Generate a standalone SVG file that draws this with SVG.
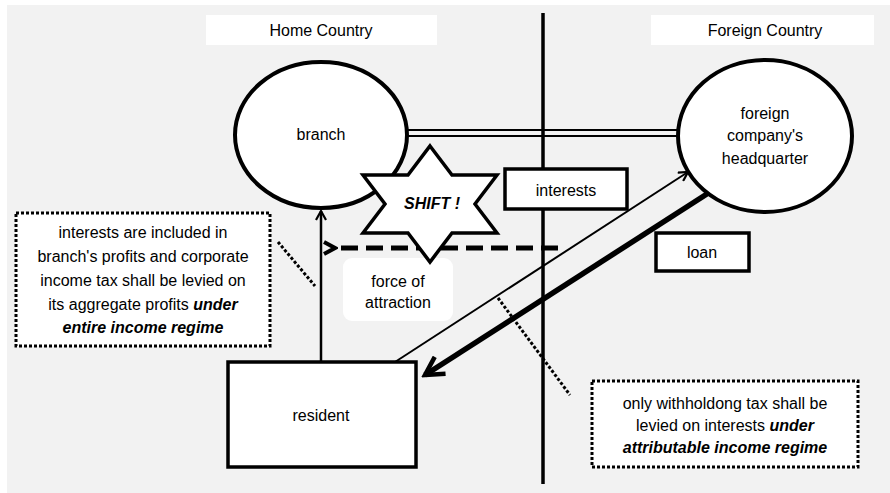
<svg xmlns="http://www.w3.org/2000/svg" width="890" height="493" viewBox="0 0 890 493">
  <defs>
    <style>
      text { font-family: "Liberation Sans", Arial, sans-serif; font-size: 16px; fill: #000; text-anchor: middle; }
      .bi { font-weight: bold; font-style: italic; }
      .node { fill: #fff; stroke: #000; stroke-width: 3.5; }
      .oval { fill: #fff; stroke: #000; stroke-width: 4; }
      .note { fill: #fff; stroke: #000; stroke-width: 3; stroke-dasharray: 3 2; }
      .leader { fill: none; stroke: #000; stroke-width: 3; stroke-dasharray: 3 2; }
      .label { fill: #fff; stroke: none; }
    </style>
    <marker id="arrowOpen" viewBox="0 0 12 12" refX="10" refY="6" markerWidth="12" markerHeight="12" markerUnits="userSpaceOnUse" orient="auto">
      <path d="M1,1 L10,6 L1,11" fill="none" stroke="#000" stroke-width="2.2" stroke-linejoin="miter"/>
    </marker>
    <marker id="arrowThick" viewBox="0 0 24 24" refX="20" refY="12" markerWidth="24" markerHeight="24" markerUnits="userSpaceOnUse" orient="auto">
      <path d="M2,2 L20,12 L2,22" fill="none" stroke="#000" stroke-width="4.5" stroke-linejoin="miter"/>
    </marker>
    <marker id="arrowDash" viewBox="0 0 16 16" refX="2" refY="8" markerWidth="16" markerHeight="16" markerUnits="userSpaceOnUse" orient="auto">
      <path d="M14,2 L3,8 L14,14" fill="none" stroke="#000" stroke-width="4" stroke-linejoin="miter"/>
    </marker>
  </defs>

  <!-- canvas -->
  <rect x="7" y="5" width="883" height="488" fill="#f2f2f2"/>

  <!-- country headers -->
  <g id="home-country">
    <rect class="label" x="206" y="15" width="231" height="30"/>
    <text x="321" y="36">Home Country</text>
  </g>
  <g id="foreign-country">
    <rect class="label" x="651" y="15" width="223" height="30"/>
    <text x="765" y="36">Foreign Country</text>
  </g>

  <!-- border between the two countries -->
  <line id="border" x1="543" y1="13" x2="543" y2="484" stroke="#000" stroke-width="3.5"/>

  <!-- connectors -->
  <g id="connectors">
    <!-- branch / headquarter link -->
    <line x1="406" y1="130" x2="682" y2="130" stroke="#000" stroke-width="2"/>
    <line x1="406" y1="136" x2="682" y2="136" stroke="#000" stroke-width="2"/>
    <!-- resident -> branch -->
    <line x1="321" y1="362" x2="321" y2="211" stroke="#000" stroke-width="2.5" marker-end="url(#arrowOpen)"/>
    <!-- resident -> headquarter (interests) -->
    <line x1="395" y1="362" x2="688" y2="172" stroke="#000" stroke-width="2" marker-end="url(#arrowOpen)"/>
    <!-- headquarter -> resident (loan) -->
    <line x1="710" y1="192" x2="425" y2="375" stroke="#000" stroke-width="5.5" marker-end="url(#arrowThick)"/>
    <!-- force of attraction -->
    <line x1="558" y1="248" x2="336" y2="248" stroke="#000" stroke-width="5" stroke-dasharray="17 8" marker-end="url(#arrowDash)"/>
    <!-- note leaders -->
    <line class="leader" x1="278" y1="242" x2="315" y2="286"/>
    <line class="leader" x1="498" y1="298" x2="570" y2="395"/>
  </g>

  <g id="branch">
    <ellipse class="oval" cx="321" cy="135" rx="86" ry="73"/>
    <text x="321" y="140">branch</text>
  </g>

  <g id="headquarter">
    <ellipse class="oval" cx="765" cy="136" rx="87" ry="76"/>
    <text x="765" y="119">foreign</text>
    <text x="765" y="141">company's</text>
    <text x="765" y="164">headquarter</text>
  </g>

  <g id="force-of-attraction">
    <rect class="label" x="343" y="258" width="110" height="63" rx="9"/>
    <text x="398" y="287">force of</text>
    <text x="398" y="308">attraction</text>
  </g>

  <g id="shift">
    <polygon class="node" points="430,146 452,175 497,175 475,204 497,233 452,233 430,262 408,233 363,233 385,204 363,175 408,175"/>
    <text class="bi" x="432" y="209" font-size="15">SHIFT !</text>
  </g>

  <g id="interests">
    <rect class="node" x="505" y="169" width="122" height="40" stroke-width="3"/>
    <text x="566" y="196">interests</text>
  </g>

  <g id="loan">
    <rect class="node" x="656" y="233" width="93" height="38" stroke-width="3"/>
    <text x="702" y="258">loan</text>
  </g>

  <g id="resident">
    <rect class="node" x="228" y="362" width="188" height="105"/>
    <text x="321" y="421">resident</text>
  </g>

  <g id="note-entire-income">
    <rect class="note" x="16" y="213" width="254" height="133"/>
    <text x="143" y="238">interests are included in</text>
    <text x="143" y="262">branch's profits and corporate</text>
    <text x="143" y="286">income tax shall be levied on</text>
    <text x="143" y="310">its aggregate profits <tspan class="bi">under</tspan></text>
    <text x="143" y="333" class="bi">entire income regime</text>
  </g>

  <g id="note-attributable-income">
    <rect class="note" x="592" y="381" width="266" height="86"/>
    <text x="725" y="409">only withholdong tax shall be</text>
    <text x="725" y="431">levied on interests <tspan class="bi">under</tspan></text>
    <text x="725" y="453" class="bi">attributable income regime</text>
  </g>
</svg>
